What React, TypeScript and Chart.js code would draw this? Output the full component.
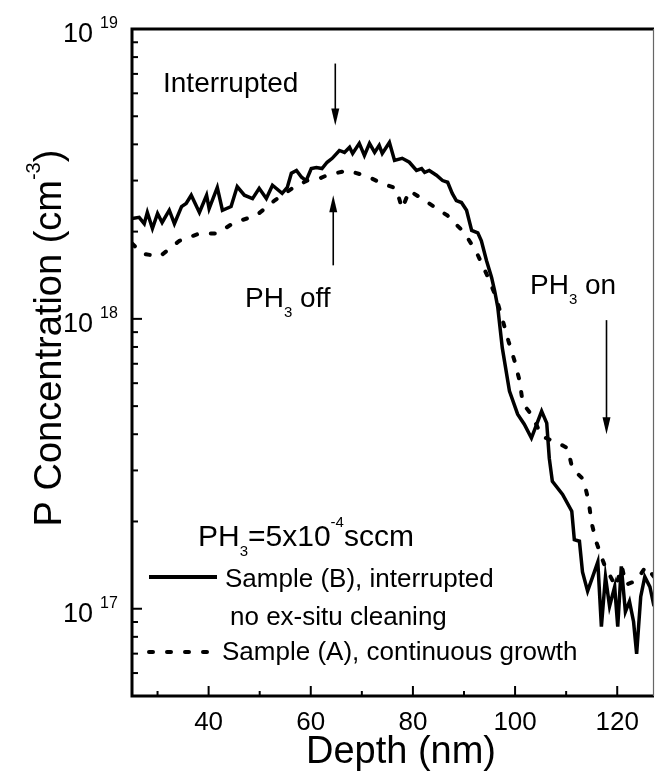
import { useEffect, useRef } from "react";
import { Chart, registerables } from "chart.js";

Chart.register(...registerables);

// Sample (B), interrupted, no ex-situ cleaning (solid)
const depthB = [25.0, 26.4, 27.4, 28.0, 29.0, 30.0, 30.9, 32.3, 33.3, 34.7, 35.6, 36.6, 38.2, 39.6, 40.1, 41.7, 42.7, 44.4, 45.6, 47.0, 48.6, 49.9, 51.3, 52.5, 54.4, 55.4, 56.2, 57.2, 58.2, 59.1, 60.1, 61.1, 62.2, 63.2, 64.2, 65.6, 66.6, 67.6, 68.2, 69.5, 70.5, 71.5, 72.5, 73.4, 74.0, 75.4, 76.4, 77.9, 79.3, 80.7, 81.7, 82.3, 83.2, 84.6, 85.8, 86.8, 87.7, 88.5, 89.5, 90.5, 91.5, 92.7, 93.4, 94.4, 95.4, 96.0, 96.6, 97.5, 98.9, 100.5, 101.8, 103.2, 105.2, 106.2, 106.7, 107.3, 109.3, 111.1, 111.6, 112.6, 113.2, 114.2, 115.2, 116.2, 116.9, 117.7, 118.5, 119.5, 120.1, 120.8, 121.6, 122.4, 123.2, 123.8, 124.6, 125.4, 126.4, 127.2];
const concB = [2.22e18, 2.24e18, 2.13e18, 2.33e18, 2.05e18, 2.31e18, 2.15e18, 2.37e18, 2.13e18, 2.44e18, 2.50e18, 2.67e18, 2.33e18, 2.67e18, 2.40e18, 2.84e18, 2.37e18, 2.44e18, 2.86e18, 2.67e18, 2.60e18, 2.82e18, 2.60e18, 2.89e18, 2.71e18, 2.84e18, 3.18e18, 3.25e18, 3.08e18, 3.00e18, 3.30e18, 3.33e18, 3.30e18, 3.47e18, 3.58e18, 3.81e18, 3.75e18, 3.91e18, 3.72e18, 4.03e18, 3.66e18, 4.03e18, 3.75e18, 3.97e18, 3.72e18, 4.06e18, 3.52e18, 3.58e18, 3.47e18, 3.25e18, 3.30e18, 3.20e18, 3.25e18, 3.13e18, 3.00e18, 2.96e18, 2.71e18, 2.56e18, 2.52e18, 2.37e18, 2.02e18, 1.98e18, 1.86e18, 1.59e18, 1.39e18, 1.25e18, 1.10e18, 7.94e17, 5.64e17, 4.69e17, 4.33e17, 3.88e17, 4.80e17, 4.37e17, 3.30e17, 2.75e17, 2.48e17, 2.17e17, 1.73e17, 1.71e17, 1.34e17, 1.15e17, 1.29e17, 1.45e17, 8.67e16, 1.29e17, 1.02e17, 1.19e17, 8.67e16, 1.40e17, 9.76e16, 1.06e17, 9.02e16, 6.99e16, 1.10e17, 1.29e17, 1.19e17, 1.02e17];

// Sample (A), continuous growth (dotted)
const depthA = [25.0, 27.0, 30.4, 34.3, 38.2, 41.7, 45.0, 49.3, 52.9, 56.4, 59.3, 61.3, 63.2, 67.2, 71.1, 74.0, 76.7, 77.9, 79.3, 83.2, 86.8, 90.1, 92.5, 94.4, 96.2, 97.5, 98.7, 99.9, 100.9, 101.5, 103.4, 105.2, 108.9, 110.3, 111.2, 113.4, 114.4, 115.0, 116.0, 117.4, 119.7, 120.9, 121.7, 123.8, 125.6, 127.2];
const concA = [1.82e18, 1.68e18, 1.64e18, 1.86e18, 1.97e18, 1.97e18, 2.15e18, 2.27e18, 2.56e18, 2.82e18, 3.00e18, 3.03e18, 3.13e18, 3.25e18, 3.10e18, 2.93e18, 2.82e18, 2.40e18, 2.77e18, 2.50e18, 2.27e18, 1.98e18, 1.69e18, 1.43e18, 1.20e18, 1.00e18, 8.39e17, 7.16e17, 6.10e17, 5.12e17, 4.62e17, 3.94e17, 3.69e17, 3.58e17, 3.05e17, 2.79e17, 2.35e17, 1.97e17, 1.68e17, 1.43e17, 1.19e17, 1.40e17, 1.21e17, 1.25e17, 1.40e17, 1.29e17];

const xMajorTicks = [40, 60, 80, 100, 120];
const xMinorTicks = [30, 50, 70, 90, 110];
const yDecadeExponents = [17, 18, 19];
const yMinorTicks = [5e16, 6e16, 7e16, 8e16, 9e16, 2e17, 3e17, 4e17, 5e17, 6e17, 7e17, 8e17, 9e17, 2e18, 3e18, 4e18, 5e18, 6e18, 7e18, 8e18, 9e18];

const X_MIN = 25;
const X_MAX = 127.2;
const Y_MIN = 5e16;
const Y_MAX = 1e19;

const FONT = '"Liberation Sans", Arial, Helvetica, sans-serif';

type Seg = { t: string; size: number; dy?: number };

function richWidth(ctx: CanvasRenderingContext2D, segs: Seg[]) {
  let w = 0;
  for (const s of segs) {
    ctx.font = `${s.size}px ${FONT}`;
    w += ctx.measureText(s.t).width;
  }
  return w;
}

function drawRich(ctx: CanvasRenderingContext2D, segs: Seg[], x: number, y: number, align: "left" | "center" | "right" = "left") {
  const total = richWidth(ctx, segs);
  let cx = align === "center" ? x - total / 2 : align === "right" ? x - total : x;
  ctx.textAlign = "left";
  ctx.textBaseline = "alphabetic";
  for (const s of segs) {
    ctx.font = `${s.size}px ${FONT}`;
    ctx.fillText(s.t, cx, y + (s.dy || 0));
    cx += ctx.measureText(s.t).width;
  }
}

function drawArrow(ctx: CanvasRenderingContext2D, x: number, yTail: number, yTip: number) {
  const dir = yTip > yTail ? 1 : -1;
  const headLen = 17;
  const halfW = 4;
  ctx.save();
  ctx.strokeStyle = "#000";
  ctx.fillStyle = "#000";
  ctx.lineWidth = 1.6;
  ctx.beginPath();
  ctx.moveTo(x, yTail);
  ctx.lineTo(x, yTip - dir * headLen * 0.6);
  ctx.stroke();
  ctx.beginPath();
  ctx.moveTo(x, yTip);
  ctx.lineTo(x - halfW, yTip - dir * headLen);
  ctx.lineTo(x + halfW, yTip - dir * headLen);
  ctx.closePath();
  ctx.fill();
  ctx.restore();
}

const decorPlugin = {
  id: "decor",
  afterDraw(chart: any) {
    const { ctx, chartArea: a, scales } = chart;
    const xs = scales.x;
    const ys = scales.y;
    ctx.save();
    ctx.fillStyle = "#000";
    ctx.strokeStyle = "#000";

    // ticks
    ctx.lineWidth = 2;
    ctx.lineCap = "butt";
    for (const v of xMajorTicks) {
      const px = xs.getPixelForValue(v);
      ctx.beginPath();
      ctx.moveTo(px, a.bottom);
      ctx.lineTo(px, a.bottom - 10);
      ctx.stroke();
    }
    for (const v of xMinorTicks) {
      const px = xs.getPixelForValue(v);
      ctx.beginPath();
      ctx.moveTo(px, a.bottom);
      ctx.lineTo(px, a.bottom - 5);
      ctx.stroke();
    }
    for (const e of yDecadeExponents) {
      const py = ys.getPixelForValue(Math.pow(10, e));
      ctx.beginPath();
      ctx.moveTo(a.left, py);
      ctx.lineTo(a.left + 10, py);
      ctx.stroke();
    }
    for (const v of yMinorTicks) {
      const py = ys.getPixelForValue(v);
      ctx.beginPath();
      ctx.moveTo(a.left, py);
      ctx.lineTo(a.left + 6, py);
      ctx.stroke();
    }

    // frame
    ctx.lineWidth = 3;
    ctx.beginPath();
    ctx.moveTo(a.right, a.top);
    ctx.lineTo(a.left, a.top);
    ctx.lineTo(a.left, a.bottom);
    ctx.lineTo(a.right, a.bottom);
    ctx.stroke();
    ctx.lineWidth = 1.2;
    ctx.strokeStyle = "#666";
    ctx.beginPath();
    ctx.moveTo(a.right - 0.5, a.top);
    ctx.lineTo(a.right - 0.5, a.bottom);
    ctx.stroke();
    ctx.strokeStyle = "#000";

    // x tick labels
    ctx.font = `26px ${FONT}`;
    ctx.textAlign = "center";
    ctx.textBaseline = "alphabetic";
    for (const v of xMajorTicks) {
      ctx.fillText(String(v), xs.getPixelForValue(v), a.bottom + 34);
    }
    // y tick labels
    for (const e of yDecadeExponents) {
      const py = ys.getPixelForValue(Math.pow(10, e));
      ctx.font = `27px ${FONT}`;
      ctx.textAlign = "right";
      ctx.fillText("10", 93, py + 13);
      ctx.font = `16px ${FONT}`;
      ctx.textAlign = "left";
      ctx.fillText(String(e), 100, py - 1);
    }

    // axis titles
    drawRich(ctx, [{ t: "Depth (nm)", size: 38 }], (a.left + a.right) / 2 + 8, 763, "center");
    ctx.save();
    ctx.translate(61, 338);
    ctx.rotate(-Math.PI / 2);
    drawRich(ctx, [
      { t: "P Concentration (cm", size: 38 },
      { t: "-3", size: 20, dy: -21 },
      { t: ")", size: 38 },
    ], 0, 0, "center");
    ctx.restore();

    // annotations
    drawRich(ctx, [{ t: "Interrupted", size: 28 }], 163, 92);
    drawArrow(ctx, xs.getPixelForValue(64.8), ys.getPixelForValue(7.6e18), ys.getPixelForValue(4.65e18));
    drawRich(ctx, [
      { t: "PH", size: 28 },
      { t: "3", size: 15, dy: 10 },
      { t: " off", size: 28 },
    ], 245, 307);
    drawArrow(ctx, xs.getPixelForValue(64.4), ys.getPixelForValue(1.53e18), ys.getPixelForValue(2.67e18));
    drawRich(ctx, [
      { t: "PH", size: 28 },
      { t: "3", size: 15, dy: 10 },
      { t: " on", size: 28 },
    ], 530, 294);
    drawArrow(ctx, xs.getPixelForValue(117.9), ys.getPixelForValue(9.9e17), ys.getPixelForValue(4.0e17));

    // legend
    drawRich(ctx, [
      { t: "PH", size: 30 },
      { t: "3", size: 15, dy: 10 },
      { t: "=5x10", size: 30 },
      { t: "-4", size: 15, dy: -19 },
      { t: "sccm", size: 30 },
    ], 198, 546);
    ctx.lineWidth = 4;
    ctx.beginPath();
    ctx.moveTo(149, 577);
    ctx.lineTo(217, 577);
    ctx.stroke();
    drawRich(ctx, [{ t: "Sample (B), interrupted", size: 26 }], 225, 587);
    drawRich(ctx, [{ t: "no ex-situ cleaning", size: 26 }], 230, 625);
    ctx.setLineDash([4, 14]);
    ctx.lineCap = "round";
    ctx.beginPath();
    ctx.moveTo(149, 652);
    ctx.lineTo(218, 652);
    ctx.stroke();
    ctx.setLineDash([]);
    drawRich(ctx, [{ t: "Sample (A), continuous growth", size: 26 }], 222, 660);

    ctx.restore();
  },
};

export default function App() {
  const canvasRef = useRef<HTMLCanvasElement | null>(null);

  useEffect(() => {
    const canvas = canvasRef.current;
    if (!canvas) return;
    const chart = new Chart(canvas, {
      type: "line",
      data: {
        datasets: [
          {
            label: "Sample (B), interrupted",
            data: depthB.map((d, i) => ({ x: d, y: concB[i] })),
            borderColor: "#000",
            borderWidth: 3.5,
            pointRadius: 0,
            tension: 0,
            fill: false,
            borderJoinStyle: "miter",
          },
          {
            label: "Sample (A), continuous growth",
            data: depthA.map((d, i) => ({ x: d, y: concA[i] })),
            borderColor: "#000",
            borderWidth: 4,
            borderDash: [4, 14],
            borderCapStyle: "round",
            pointRadius: 0,
            tension: 0,
            fill: false,
          },
        ],
      },
      options: {
        animation: false,
        responsive: false,
        devicePixelRatio: 1,
        layout: { padding: { left: 132, right: 1, top: 29, bottom: 85 } },
        plugins: { legend: { display: false }, tooltip: { enabled: false } },
        events: [],
        scales: {
          x: { type: "linear", min: X_MIN, max: X_MAX, display: false },
          y: { type: "logarithmic", min: Y_MIN, max: Y_MAX, display: false },
        },
      },
      plugins: [decorPlugin],
    });
    return () => chart.destroy();
  }, []);

  return (
    <div style={{ position: "absolute", left: 0, top: 0, width: 655, height: 781, background: "#fff" }}>
      <canvas ref={canvasRef} width={655} height={781} style={{ width: 655, height: 781, display: "block" }} />
    </div>
  );
}
